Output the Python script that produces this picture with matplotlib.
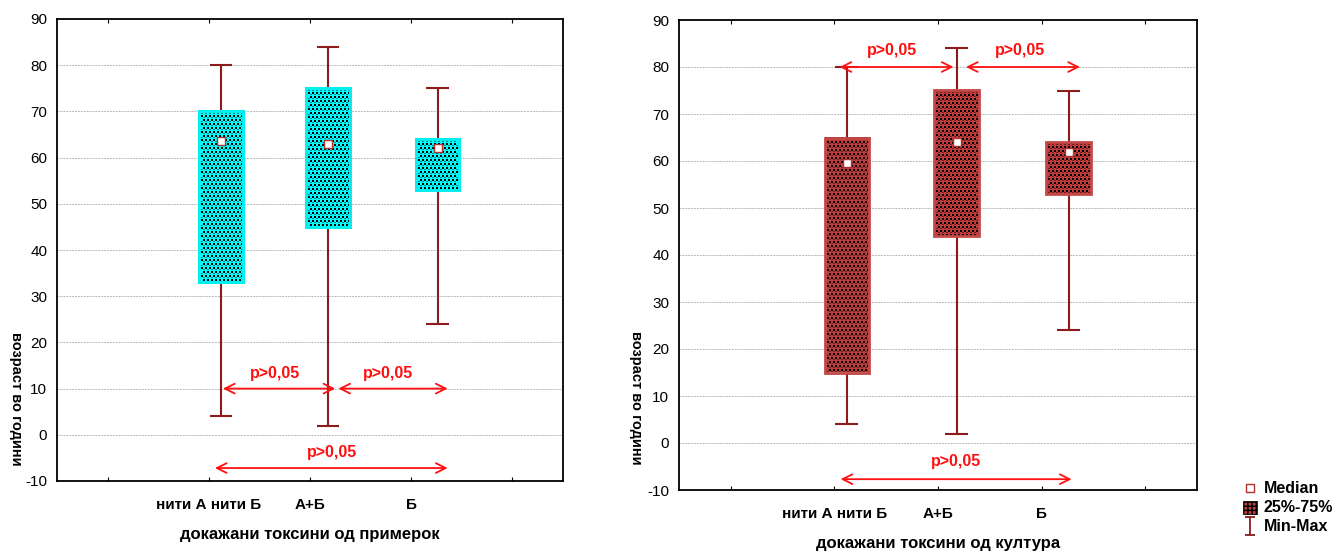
import matplotlib
matplotlib.use("Agg")
import matplotlib.pyplot as plt
import numpy as np
from matplotlib.colors import to_rgb
from matplotlib.lines import Line2D
from matplotlib.patches import Patch, Rectangle
from matplotlib.path import Path

plt.rcParams["font.family"] = ["Liberation Sans", "DejaVu Sans"]

CATEGORIES = ["нити А нити Б", "А+Б", "Б"]
TICK_POS = [0.5, 1.5, 2.5, 3.5, 4.5]
BOX_POS = [1.62, 2.68, 3.76]
Y_TICKS = [-10, 0, 10, 20, 30, 40, 50, 60, 70, 80, 90]

# возраст, докажани токсини од примерок
SAMPLE_MIN = [4, 2, 24]
SAMPLE_Q1 = [33, 45, 53]
SAMPLE_MED = [63.5, 63, 62]
SAMPLE_Q3 = [70, 75, 64]
SAMPLE_MAX = [80, 84, 75]

# возраст, докажани токсини од култура
CULTURE_MIN = [4, 2, 24]
CULTURE_Q1 = [15, 44, 53]
CULTURE_MED = [59.5, 64, 62]
CULTURE_Q3 = [65, 75, 64]
CULTURE_MAX = [80, 84, 75]

P_TEXT = "p>0,05"

WHISKER = "#8c1c1c"
MEDIAN_EDGE = "#b03030"
RED = "#ff1010"


def checker_box(ax, x0, x1, y0, y1, color, edge, lw, period=4):
    # one image pixel per screen pixel: black 2x2 squares on a coloured grid
    (px0, py0), (px1, py1) = ax.transData.transform([(x0, y0), (x1, y1)])
    nx = max(1, int(round(abs(px1 - px0))))
    ny = max(1, int(round(abs(py1 - py0))))
    yy, xx = np.indices((ny, nx))
    img = np.empty((ny, nx, 3))
    img[:] = to_rgb(color)
    shift = (yy // period) % 2 * 2
    img[(((xx + shift) % period) < 2) & ((yy % period) < 2)] = 0.0
    img[(((xx + shift + 2) % period) < 2) & ((yy % period) == 2)] *= 0.55
    ax.imshow(img, extent=(x0, x1, y0, y1), origin="upper", aspect="auto",
              interpolation="nearest", zorder=2)
    ax.add_patch(Rectangle((x0, y0), x1 - x0, y1 - y0, fill=False,
                           edgecolor=edge, lw=lw, zorder=3))


def setup_axes(ax, xlabel):
    ax.set_xlim(0, 5)
    ax.set_ylim(-10, 90)
    ax.set_xticks(TICK_POS)
    ax.set_xticklabels([""] + CATEGORIES + [""], fontsize=11, fontweight="bold")
    ax.set_yticks(Y_TICKS)
    ax.set_yticklabels([str(v) for v in Y_TICKS], fontsize=11)
    ax.tick_params(axis="x", direction="in", top=True, length=3, pad=12)
    ax.tick_params(axis="y", length=0, pad=7)
    for sp in ax.spines.values():
        sp.set_linewidth(1.3)
    for v in Y_TICKS[1:-1]:
        ax.axhline(v, color="#b8b8b8", lw=0.7, ls=(0, (2, 1)), zorder=0)
    ax.set_xlabel(xlabel, fontsize=12, fontweight="bold", labelpad=11)


def draw_boxes(ax, mins, q1, med, q3, maxs, fill, edge, edge_lw):
    width = 0.43
    cap = 0.11
    ax.vlines(BOX_POS, mins, q1, color=WHISKER, lw=1.5, zorder=1)
    ax.vlines(BOX_POS, q3, maxs, color=WHISKER, lw=1.5, zorder=1)
    for x, lo, hi in zip(BOX_POS, mins, maxs):
        ax.hlines([lo, hi], x - cap, x + cap, color=WHISKER, lw=1.5, zorder=1)
    for x, a, b in zip(BOX_POS, q1, q3):
        checker_box(ax, x - width / 2, x + width / 2, a, b, fill, edge, edge_lw)
    ax.plot(BOX_POS, med, "s", ms=5.5, mfc="white", mec=MEDIAN_EDGE, mew=1.0,
            zorder=4, ls="none")
    ax.set_xlim(0, 5)
    ax.set_ylim(-10, 90)


def compare(ax, x0, x1, y, tx, ty):
    ax.annotate("", xy=(x1, y), xytext=(x0, y),
                arrowprops=dict(arrowstyle="<->,head_length=0.7,head_width=0.35",
                                color=RED, lw=1.3, shrinkA=0, shrinkB=0),
                zorder=5)
    ax.text(tx, ty, P_TEXT, color=RED, fontsize=11.5, fontweight="bold",
            ha="center", va="center", zorder=5)


fig = plt.figure(figsize=(13.37, 5.53), dpi=100)
ax1 = fig.add_axes([57 / 1337, 72 / 553, 506 / 1337, 462 / 553])
ax2 = fig.add_axes([679 / 1337, 63 / 553, 518 / 1337, 470 / 553])

setup_axes(ax1, "докажани токсини од примерок")
setup_axes(ax2, "докажани токсини од култура")

draw_boxes(ax1, SAMPLE_MIN, SAMPLE_Q1, SAMPLE_MED, SAMPLE_Q3, SAMPLE_MAX,
           "#00ffff", "#00f0f0", 2.2)
draw_boxes(ax2, CULTURE_MIN, CULTURE_Q1, CULTURE_MED, CULTURE_Q3, CULTURE_MAX,
           "#c03c3c", "#c44848", 2.0)

p = BOX_POS
compare(ax1, p[0] + 0.02, p[1] + 0.07, 10, 2.15, 13.2)
compare(ax1, p[1] + 0.10, p[2] + 0.10, 10, 3.27, 13.2)
compare(ax1, p[0] - 0.06, p[2] + 0.10, -7.2, 2.72, -3.8)

compare(ax2, p[0] - 0.07, p[1] - 0.03, 80, 2.06, 83.6)
compare(ax2, p[1] + 0.09, p[2] + 0.11, 80, 3.29, 83.6)
compare(ax2, p[0] - 0.06, p[2] + 0.03, -7.7, 2.67, -4.0)

fig.text(16 / 1337, 1 - 399 / 553, "возраст во години", rotation=270,
         fontsize=10.5, fontweight="bold", ha="center", va="center")
fig.text(636 / 1337, 1 - 398 / 553, "возраст во години", rotation=270,
         fontsize=10.5, fontweight="bold", ha="center", va="center")

minmax_marker = Path([(0, -1), (0, 1), (-0.6, 1), (0.6, 1), (-0.6, -1), (0.6, -1)],
                     [Path.MOVETO, Path.LINETO, Path.MOVETO, Path.LINETO,
                      Path.MOVETO, Path.LINETO])
handles = [
    Line2D([], [], ls="none", marker="s", ms=5.5, mfc="white", mec=MEDIAN_EDGE, mew=1.0),
    Patch(facecolor="#c04040", edgecolor="black", hatch="++++", lw=0.5),
    Line2D([], [], ls="none", marker=minmax_marker, ms=13, color=WHISKER, mew=1.3),
]
leg = fig.legend(handles, ["Median", "25%-75%", "Min-Max"], loc="upper left",
                 bbox_to_anchor=(1243 / 1337, 1 - 481 / 553), frameon=False,
                 handlelength=1.0, handleheight=1.0, handletextpad=0.5,
                 labelspacing=0.3, borderpad=0, borderaxespad=0)
for t in leg.get_texts():
    t.set_fontsize(11.5)
    t.set_fontweight("bold")

fig.savefig("out.png", dpi=100)
